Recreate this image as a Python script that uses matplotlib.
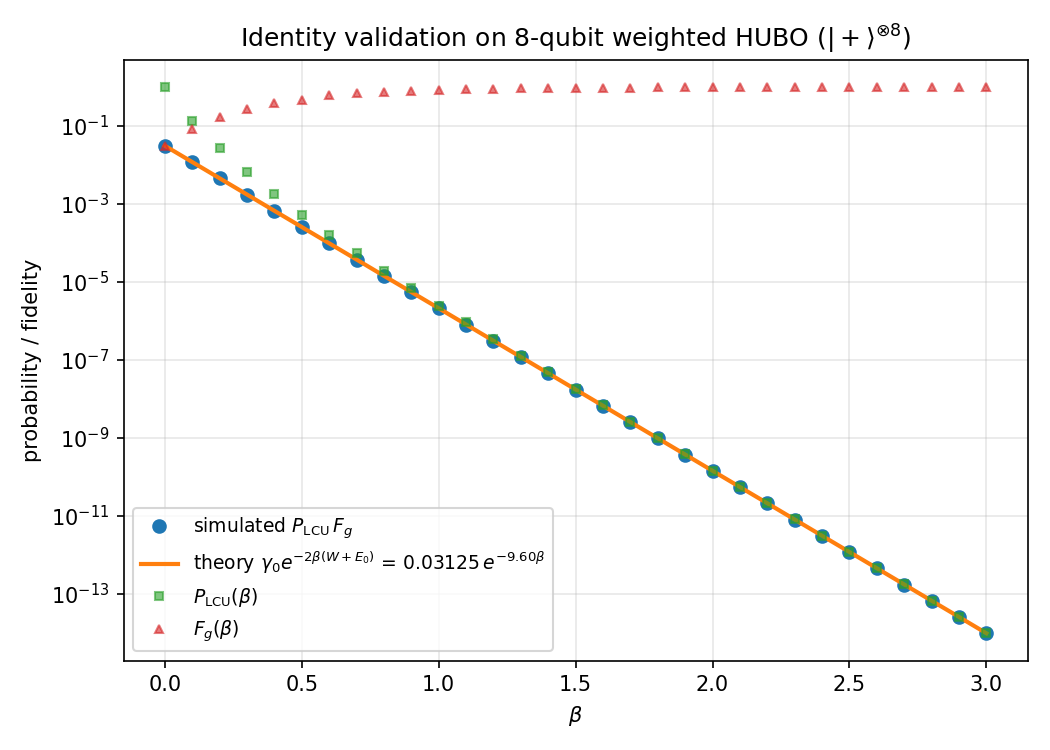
import numpy as np
import matplotlib
matplotlib.use('Agg')
import matplotlib.pyplot as plt

# beta grid
beta = [0.0, 0.1, 0.2, 0.3, 0.4, 0.5, 0.6, 0.7, 0.8, 0.9, 1.0,
        1.1, 1.2, 1.3, 1.4, 1.5, 1.6, 1.7, 1.8, 1.9, 2.0,
        2.1, 2.2, 2.3, 2.4, 2.5, 2.6, 2.7, 2.8, 2.9, 3.0]

# simulated P_LCU * F_g
sim = [3.125e-2, 1.197e-2, 4.58e-3, 1.754e-3, 6.71e-4, 2.57e-4, 9.84e-5,
       3.77e-5, 1.44e-5, 5.53e-6, 2.12e-6, 8.11e-7, 3.10e-7, 1.19e-7,
       4.55e-8, 1.74e-8, 6.67e-9, 2.55e-9, 9.77e-10, 3.74e-10, 1.43e-10,
       5.48e-11, 2.10e-11, 8.04e-12, 3.08e-12, 1.18e-12, 4.52e-13,
       1.73e-13, 6.62e-14, 2.54e-14, 9.70e-15]

# theory curve gamma0 * exp(-9.60 beta), same grid
theory = [3.125e-2, 1.197e-2, 4.58e-3, 1.754e-3, 6.71e-4, 2.57e-4, 9.84e-5,
          3.77e-5, 1.44e-5, 5.53e-6, 2.12e-6, 8.11e-7, 3.10e-7, 1.19e-7,
          4.55e-8, 1.74e-8, 6.67e-9, 2.55e-9, 9.77e-10, 3.74e-10, 1.43e-10,
          5.48e-11, 2.10e-11, 8.04e-12, 3.08e-12, 1.18e-12, 4.52e-13,
          1.73e-13, 6.62e-14, 2.54e-14, 9.70e-15]

# success probability of the LCU
p_lcu = [1.0, 0.139, 0.0274, 6.54e-3, 1.77e-3, 5.35e-4, 1.61e-4, 5.46e-5,
         1.89e-5, 6.83e-6, 2.47e-6, 9.22e-7, 3.41e-7, 1.28e-7, 4.84e-8,
         1.81e-8, 6.88e-9, 2.62e-9, 9.97e-10, 3.80e-10, 1.44e-10, 5.54e-11,
         2.12e-11, 8.09e-12, 3.10e-12, 1.18e-12, 4.53e-13, 1.74e-13,
         6.63e-14, 2.54e-14, 9.71e-15]

# ground state fidelity
f_g = [0.03125, 0.086, 0.167, 0.268, 0.38, 0.48, 0.61, 0.69, 0.76, 0.81,
       0.86, 0.88, 0.91, 0.93, 0.94, 0.96, 0.97, 0.975, 0.98, 0.985, 0.99,
       0.99, 0.992, 0.994, 0.995, 0.996, 0.997, 0.997, 0.998, 0.998, 0.999]

fig, ax = plt.subplots(figsize=(7, 5), dpi=150)

ax.semilogy(beta, sim, 'o', color='C0', markersize=6, label=r'simulated $P_{\mathrm{LCU}}\,F_g$')
ax.semilogy(beta, theory, '-', color='C1', lw=2,
            label=r'theory $\gamma_0 e^{-2\beta(W+E_0)}$ = $0.03125\,e^{-9.60\beta}$')
ax.semilogy(beta, p_lcu, 's', color='C2', markersize=4, alpha=0.6, label=r'$P_{\mathrm{LCU}}(\beta)$')
ax.semilogy(beta, f_g, '^', color='C3', markersize=4, alpha=0.6, label=r'$F_g(\beta)$')

ax.set_xlabel(r'$\beta$')
ax.set_ylabel('probability / fidelity')
ax.set_title(r'Identity validation on 8-qubit weighted HUBO ($|+\rangle^{\otimes 8}$)')
ax.grid(True, alpha=0.3)
ax.legend(loc='lower left', fontsize=9)

fig.tight_layout()
fig.savefig('out.png')
